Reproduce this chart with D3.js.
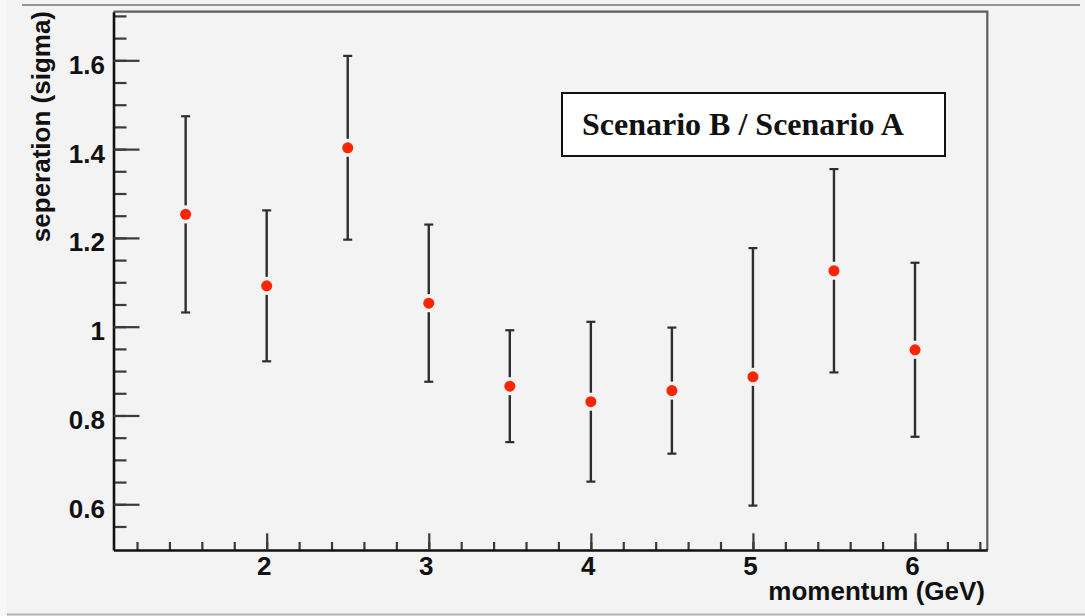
<!DOCTYPE html>
<html>
<head>
<meta charset="utf-8">
<script src="https://cdn.jsdelivr.net/npm/d3@7"></script>
<style>
  html, body { margin: 0; padding: 0; background: #f3f3f3; }
  svg { display: block; }
  .lbl { font-family: "Liberation Sans", Arial, Helvetica, sans-serif; font-weight: bold; font-size: 26px; fill: #111; }
</style>
</head>
<body>
<svg id="chart" width="1085" height="616"></svg>
<script>
// Measured separation ratio vs momentum
const momentum = [1.5, 2, 2.5, 3, 3.5, 4, 4.5, 5, 5.5, 6];
const separation = [1.253, 1.092, 1.403, 1.053, 0.866, 0.831, 0.856, 0.887, 1.126, 0.948];
const sepError = [0.221, 0.170, 0.207, 0.177, 0.126, 0.180, 0.142, 0.290, 0.229, 0.196];

const yTicks = [0.6, 0.8, 1.0, 1.2, 1.4, 1.6];
const yTickLabels = ["0.6", "0.8", "1", "1.2", "1.4", "1.6"];
const xTicks = [2, 3, 4, 5, 6];
const xTickLabels = ["2", "3", "4", "5", "6"];

const xTitle = "momentum (GeV)";
const yTitle = "seperation (sigma)";
const legendText = "Scenario B / Scenario A";

const W = 1085, H = 616;
const frame = { left: 113.5, top: 11.7, right: 987.3, bottom: 550 };

const svg = d3.select("#chart");

// canvas background and pad borders
svg.append("rect").attr("x", 0).attr("y", 0).attr("width", W).attr("height", H).attr("fill", "#f3f3f3");
svg.append("rect").attr("x", 0).attr("y", 0).attr("width", 7).attr("height", H).attr("fill", "#f8f8f8");
svg.append("line").attr("x1", 22).attr("x2", 1080).attr("y1", 5).attr("y2", 5)
  .attr("stroke", "#777").attr("stroke-width", 1.5);
svg.append("line").attr("x1", 7).attr("x2", W).attr("y1", 614.5).attr("y2", 614.5)
  .attr("stroke", "#b5b5b5").attr("stroke-width", 2);

const x = d3.scaleLinear().domain([1.0549, 6.446]).range([frame.left, frame.right]);
const y = d3.scaleLinear().domain([0.497, 1.7095]).range([frame.bottom, frame.top]);

// top and right frame edges
svg.append("path")
  .attr("d", `M${frame.left},${frame.top}H${frame.right}V${frame.bottom}`)
  .attr("fill", "none").attr("stroke", "#5e5e5e").attr("stroke-width", 2.2);

// minor ticks
const yMinor = d3.range(11, 35).map(i => Math.round(i * 5) / 100).filter(v => v > y.domain()[0] && v < y.domain()[1]);
const xMinor = d3.range(6, 33).map(i => Math.round(i * 2) / 10).filter(v => v > x.domain()[0] && v < x.domain()[1]);

svg.append("g").attr("transform", `translate(${frame.left},0)`)
  .call(d3.axisLeft(y).tickValues(yMinor).tickFormat("").tickSizeInner(-13).tickSizeOuter(0))
  .call(g => g.select(".domain").remove())
  .call(g => g.selectAll(".tick line").attr("stroke", "#3a3a3a").attr("stroke-width", 2.2));

svg.append("g").attr("transform", `translate(0,${frame.bottom})`)
  .call(d3.axisBottom(x).tickValues(xMinor).tickFormat("").tickSizeInner(-8).tickSizeOuter(0))
  .call(g => g.select(".domain").remove())
  .call(g => g.selectAll(".tick line").attr("stroke", "#3a3a3a").attr("stroke-width", 2.2));

// major y axis
const yAxis = svg.append("g").attr("transform", `translate(${frame.left},0)`)
  .call(d3.axisLeft(y).tickValues(yTicks).tickFormat((d, i) => yTickLabels[i])
    .tickSizeInner(-26).tickSizeOuter(0).tickPadding(8.5));
yAxis.select(".domain").attr("stroke", "#111").attr("stroke-width", 2.6);
yAxis.selectAll(".tick line").attr("stroke", "#3a3a3a").attr("stroke-width", 2.2);
yAxis.selectAll(".tick text").attr("class", "lbl").attr("dy", "13px")
  .attr("font-family", null).attr("font-size", null);

// major x axis
const xAxis = svg.append("g").attr("transform", `translate(0,${frame.bottom})`)
  .call(d3.axisBottom(x).tickValues(xTicks).tickFormat((d, i) => xTickLabels[i])
    .tickSizeInner(-16.7).tickSizeOuter(0));
xAxis.select(".domain").attr("stroke", "#111").attr("stroke-width", 2.6);
xAxis.selectAll(".tick line").attr("stroke", "#3a3a3a").attr("stroke-width", 2.2);
xAxis.selectAll(".tick text").attr("class", "lbl").attr("y", 25).attr("dy", 0).attr("dx", -3)
  .attr("font-family", null).attr("font-size", null);

// axis titles
svg.append("text").attr("class", "lbl").attr("text-anchor", "end")
  .attr("x", 985).attr("y", 600).text(xTitle);
svg.append("text").attr("class", "lbl").attr("text-anchor", "end")
  .attr("transform", "translate(50,11) rotate(-90)").text(yTitle);

// error bars with a gap around each marker
const pts = momentum.map((m, i) => ({ m, v: separation[i], e: sepError[i] }));
const gap = 9, capHalf = 4.5;
const bars = svg.append("g").attr("stroke", "#2e2e2e").attr("fill", "none");
pts.forEach(p => {
  const cx = x(p.m), cy = y(p.v), top = y(p.v + p.e), bot = y(p.v - p.e);
  bars.append("line").attr("x1", cx).attr("x2", cx).attr("y1", top).attr("y2", cy - gap).attr("stroke-width", 2.4);
  bars.append("line").attr("x1", cx).attr("x2", cx).attr("y1", cy + gap).attr("y2", bot).attr("stroke-width", 2.4);
  bars.append("line").attr("x1", cx - capHalf).attr("x2", cx + capHalf).attr("y1", top).attr("y2", top).attr("stroke-width", 2.2);
  bars.append("line").attr("x1", cx - capHalf).attr("x2", cx + capHalf).attr("y1", bot).attr("y2", bot).attr("stroke-width", 2.2);
});

// markers
svg.append("g").selectAll("circle").data(pts).join("circle")
  .attr("cx", d => x(d.m)).attr("cy", d => y(d.v)).attr("r", 5.5)
  .attr("fill", "#ff2400");

// legend box
svg.append("rect").attr("x", 562).attr("y", 93).attr("width", 383).attr("height", 63)
  .attr("fill", "#fff").attr("stroke", "#111").attr("stroke-width", 2);
svg.append("text").attr("x", 582).attr("y", 135)
  .attr("font-family", "'Liberation Serif', 'Times New Roman', serif").attr("font-weight", "bold")
  .attr("font-size", "32px").attr("fill", "#111").text(legendText);
</script>
</body>
</html>
